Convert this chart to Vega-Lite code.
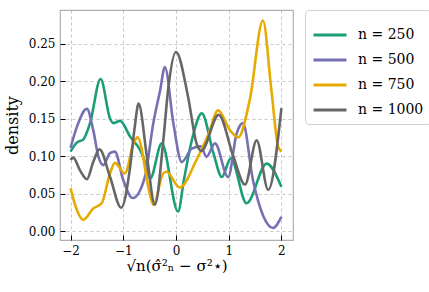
{
  "$schema": "https://vega.github.io/schema/vega-lite/v6.json",
  "autosize": {"type": "none"},
  "width": 233,
  "height": 230,
  "padding": {"left": 60, "top": 10, "right": 136, "bottom": 52},
  "datasets": {
    "d": [
      {"s": "n = 250", "x": -2.0, "y": 0.106}, {"s": "n = 250", "x": -1.88, "y": 0.118}, {"s": "n = 250", "x": -1.76, "y": 0.122}, {"s": "n = 250", "x": -1.63, "y": 0.144}, {"s": "n = 250", "x": -1.43, "y": 0.203}, {"s": "n = 250", "x": -1.25, "y": 0.150}, {"s": "n = 250", "x": -1.19, "y": 0.144}, {"s": "n = 250", "x": -1.06, "y": 0.147}, {"s": "n = 250", "x": -0.87, "y": 0.126}, {"s": "n = 250", "x": -0.68, "y": 0.108}, {"s": "n = 250", "x": -0.6, "y": 0.095}, {"s": "n = 250", "x": -0.49, "y": 0.070}, {"s": "n = 250", "x": -0.27, "y": 0.117}, {"s": "n = 250", "x": 0.04, "y": 0.026}, {"s": "n = 250", "x": 0.15, "y": 0.068}, {"s": "n = 250", "x": 0.30, "y": 0.121}, {"s": "n = 250", "x": 0.49, "y": 0.157}, {"s": "n = 250", "x": 0.71, "y": 0.104}, {"s": "n = 250", "x": 0.87, "y": 0.072}, {"s": "n = 250", "x": 1.04, "y": 0.097}, {"s": "n = 250", "x": 1.34, "y": 0.037}, {"s": "n = 250", "x": 1.72, "y": 0.090}, {"s": "n = 250", "x": 2.0, "y": 0.059},

      {"s": "n = 500", "x": -2.0, "y": 0.111}, {"s": "n = 500", "x": -1.88, "y": 0.139}, {"s": "n = 500", "x": -1.69, "y": 0.163}, {"s": "n = 500", "x": -1.57, "y": 0.135}, {"s": "n = 500", "x": -1.47, "y": 0.099}, {"s": "n = 500", "x": -1.38, "y": 0.088}, {"s": "n = 500", "x": -1.25, "y": 0.104}, {"s": "n = 500", "x": -1.16, "y": 0.106}, {"s": "n = 500", "x": -1.0, "y": 0.068}, {"s": "n = 500", "x": -0.82, "y": 0.044}, {"s": "n = 500", "x": -0.59, "y": 0.072}, {"s": "n = 500", "x": -0.43, "y": 0.144}, {"s": "n = 500", "x": -0.30, "y": 0.188}, {"s": "n = 500", "x": -0.21, "y": 0.219}, {"s": "n = 500", "x": -0.05, "y": 0.144}, {"s": "n = 500", "x": 0.11, "y": 0.092}, {"s": "n = 500", "x": 0.30, "y": 0.110}, {"s": "n = 500", "x": 0.47, "y": 0.113}, {"s": "n = 500", "x": 0.58, "y": 0.099}, {"s": "n = 500", "x": 0.74, "y": 0.117}, {"s": "n = 500", "x": 0.99, "y": 0.072}, {"s": "n = 500", "x": 1.15, "y": 0.130}, {"s": "n = 500", "x": 1.27, "y": 0.144}, {"s": "n = 500", "x": 1.46, "y": 0.068}, {"s": "n = 500", "x": 1.65, "y": 0.021}, {"s": "n = 500", "x": 1.84, "y": 0.004}, {"s": "n = 500", "x": 2.0, "y": 0.019},

      {"s": "n = 750", "x": -2.0, "y": 0.057}, {"s": "n = 750", "x": -1.88, "y": 0.028}, {"s": "n = 750", "x": -1.76, "y": 0.015}, {"s": "n = 750", "x": -1.57, "y": 0.030}, {"s": "n = 750", "x": -1.41, "y": 0.037}, {"s": "n = 750", "x": -1.25, "y": 0.077}, {"s": "n = 750", "x": -1.16, "y": 0.091}, {"s": "n = 750", "x": -0.97, "y": 0.077}, {"s": "n = 750", "x": -0.80, "y": 0.118}, {"s": "n = 750", "x": -0.73, "y": 0.125}, {"s": "n = 750", "x": -0.49, "y": 0.048}, {"s": "n = 750", "x": -0.43, "y": 0.035}, {"s": "n = 750", "x": -0.24, "y": 0.077}, {"s": "n = 750", "x": -0.18, "y": 0.079}, {"s": "n = 750", "x": 0.07, "y": 0.058}, {"s": "n = 750", "x": 0.39, "y": 0.095}, {"s": "n = 750", "x": 0.61, "y": 0.128}, {"s": "n = 750", "x": 0.80, "y": 0.161}, {"s": "n = 750", "x": 1.02, "y": 0.135}, {"s": "n = 750", "x": 1.18, "y": 0.125}, {"s": "n = 750", "x": 1.40, "y": 0.175}, {"s": "n = 750", "x": 1.65, "y": 0.281}, {"s": "n = 750", "x": 1.81, "y": 0.188}, {"s": "n = 750", "x": 1.94, "y": 0.112}, {"s": "n = 750", "x": 2.0, "y": 0.106},

      {"s": "n = 1000", "x": -2.0, "y": 0.095}, {"s": "n = 1000", "x": -1.95, "y": 0.098}, {"s": "n = 1000", "x": -1.82, "y": 0.081}, {"s": "n = 1000", "x": -1.69, "y": 0.069}, {"s": "n = 1000", "x": -1.57, "y": 0.092}, {"s": "n = 1000", "x": -1.45, "y": 0.109}, {"s": "n = 1000", "x": -1.25, "y": 0.072}, {"s": "n = 1000", "x": -1.04, "y": 0.031}, {"s": "n = 1000", "x": -0.88, "y": 0.080}, {"s": "n = 1000", "x": -0.78, "y": 0.140}, {"s": "n = 1000", "x": -0.71, "y": 0.170}, {"s": "n = 1000", "x": -0.55, "y": 0.099}, {"s": "n = 1000", "x": -0.40, "y": 0.035}, {"s": "n = 1000", "x": -0.24, "y": 0.121}, {"s": "n = 1000", "x": -0.15, "y": 0.188}, {"s": "n = 1000", "x": 0.0, "y": 0.239}, {"s": "n = 1000", "x": 0.23, "y": 0.179}, {"s": "n = 1000", "x": 0.39, "y": 0.117}, {"s": "n = 1000", "x": 0.48, "y": 0.107}, {"s": "n = 1000", "x": 0.81, "y": 0.155}, {"s": "n = 1000", "x": 1.09, "y": 0.099}, {"s": "n = 1000", "x": 1.31, "y": 0.062}, {"s": "n = 1000", "x": 1.53, "y": 0.121}, {"s": "n = 1000", "x": 1.75, "y": 0.055}, {"s": "n = 1000", "x": 2.0, "y": 0.164}
    ]
  },
  "data": {"name": "d"},
  "mark": {"type": "line", "interpolate": "monotone", "strokeWidth": 2.6},
  "encoding": {
    "x": {
      "field": "x", "type": "quantitative",
      "scale": {"domain": [-2.2, 2.22], "nice": false, "zero": false},
      "axis": {"values": [-2, -1, 0, 1, 2], "title": "√n(σ̂²ₙ − σ²⋆)", "format": "d"}
    },
    "y": {
      "field": "y", "type": "quantitative",
      "scale": {"domain": [-0.012, 0.295], "nice": false, "zero": false},
      "axis": {"values": [0, 0.05, 0.1, 0.15, 0.2, 0.25], "format": ".2f", "title": "density"}
    },
    "color": {
      "field": "s", "type": "nominal",
      "scale": {"domain": ["n = 250", "n = 500", "n = 750", "n = 1000"], "range": ["#1b9e77", "#7570b3", "#e6ab02", "#666666"]},
      "legend": {"title": null}
    }
  },
  "config": {
    "font": "DejaVu Serif",
    "view": {"stroke": "#b0b0b0", "strokeWidth": 1.2},
    "axis": {
      "domain": false,
      "grid": true,
      "gridColor": "#b8b8b8",
      "gridDash": [3, 3],
      "gridWidth": 0.8,
      "tickColor": "#000000",
      "tickSize": -5,
      "tickWidth": 1,
      "labelFont": "DejaVu Serif",
      "labelFontSize": 12,
      "labelColor": "#000000",
      "labelPadding": 10,
      "titleFont": "DejaVu Serif",
      "titleFontWeight": "normal",
      "titleColor": "#000000"
    },
    "axisX": {"titleFontSize": 15, "titlePadding": 2},
    "axisY": {"titleFontSize": 16, "titlePadding": 8},
    "legend": {
      "orient": "right",
      "offset": 12,
      "padding": 7,
      "strokeColor": "#d0d0d0",
      "cornerRadius": 4,
      "fillColor": "#ffffff",
      "symbolType": "stroke",
      "symbolSize": 1089,
      "symbolStrokeWidth": 3,
      "labelFont": "DejaVu Serif",
      "labelFontSize": 14,
      "labelColor": "#000000",
      "labelOffset": 10,
      "rowPadding": -3
    }
  }
}
